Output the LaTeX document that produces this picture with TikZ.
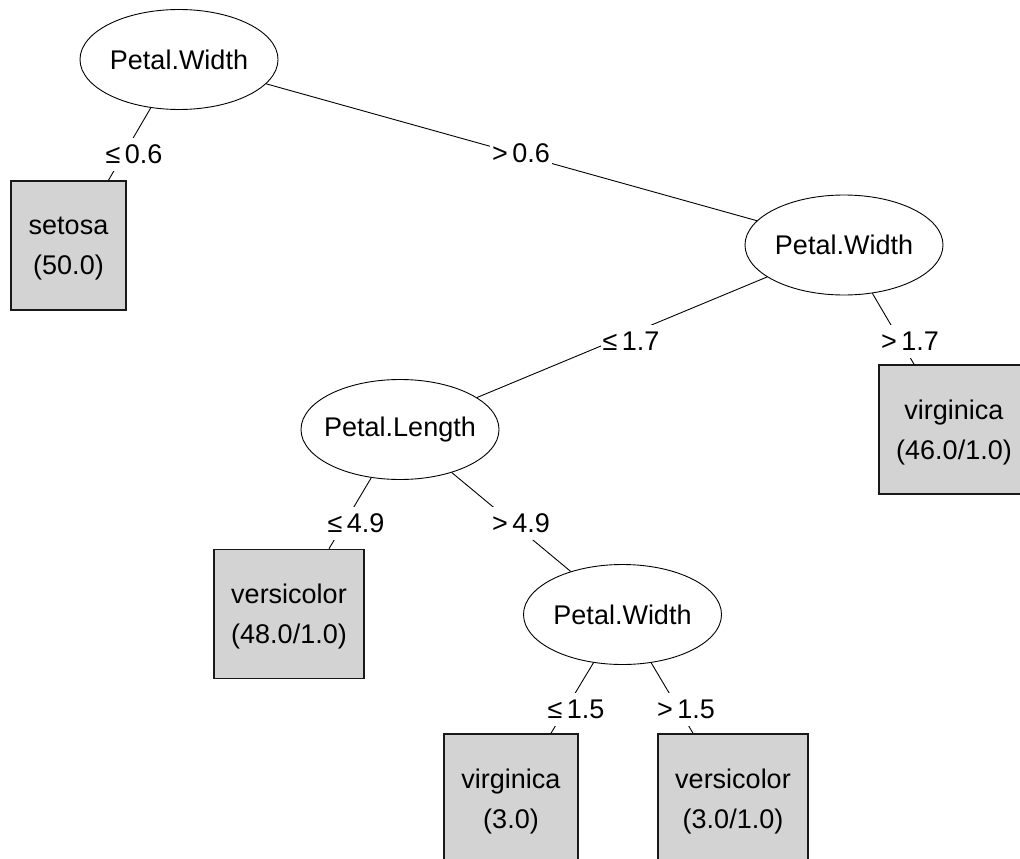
\documentclass[tikz,border=0pt]{standalone}
\usepackage{fontspec}
\setmainfont{Liberation Sans}
\usetikzlibrary{shapes.geometric}
\definecolor{leafgrey}{HTML}{D3D3D3}

\begin{document}
\begin{tikzpicture}[x=1pt,y=-1pt,font=\fontsize{27}{40}\selectfont,
  split/.style={ellipse,draw,line width=0.9pt,minimum width=198pt,minimum height=100pt,
                inner xsep=-10pt,inner ysep=0pt},
  leaf/.style={draw=black!90,line width=1.6pt,fill=leafgrey,align=center,inner xsep=17.5pt,
               minimum height=129pt,text depth=-2pt},
  edge/.style={draw,line width=0.9pt},
  elab/.style={fill=white,inner xsep=2pt,inner ysep=7pt,text height=19pt,text depth=0pt}]
\useasboundingbox (0,0) rectangle (1020,859);
\clip (0,0) rectangle (1020,859);
% inner splits
\node[split] (pw1) at (179,59.5) {Petal.Width};
\node[split] (pw2) at (844,245) {Petal.Width};
\node[split] (pl) at (400,429.5) {Petal.Length};
\node[split] (pw3) at (622.5,614.5) {Petal.Width};
% leaves
\node[leaf] (setosa) at (68.5,245.5) {setosa\\(50.0)};
\node[leaf] (virgA) at (954,429.5) {virginica\\(46.0/1.0)};
\node[leaf] (versA) at (289,614) {versicolor\\(48.0/1.0)};
\node[leaf] (virgB) at (511,798.5) {virginica\\(3.0)};
\node[leaf] (versB) at (733,798.5) {versicolor\\(3.0/1.0)};
% edges
\draw[edge] (pw1) -- ([xshift=40pt]setosa.north);
\draw[edge] (pw1) -- (pw2);
\draw[edge] (pw2) -- (pl);
\draw[edge] (pw2) -- ([xshift=-40pt]virgA.north);
\draw[edge] (pl) -- ([xshift=40pt]versA.north);
\draw[edge] (pl) -- (pw3);
\draw[edge] (pw3) -- ([xshift=40pt]virgB.north);
\draw[edge] (pw3) -- ([xshift=-40pt]versB.north);
% split labels
\node[elab] (c1) at (134,154) {≤\,0.6};
\node[elab] (c2) at (521,153) {>\,0.6};
\node[elab] (c3) at (631,341) {≤\,1.7};
\node[elab] (c4) at (910,341) {>\,1.7};
\node[elab] (c5) at (356,523) {≤\,4.9};
\node[elab] (c6) at (521,523) {>\,4.9};
\node[elab] (c7) at (576,709) {≤\,1.5};
\node[elab] (c8) at (686,709) {>\,1.5};
\end{tikzpicture}
\end{document}
